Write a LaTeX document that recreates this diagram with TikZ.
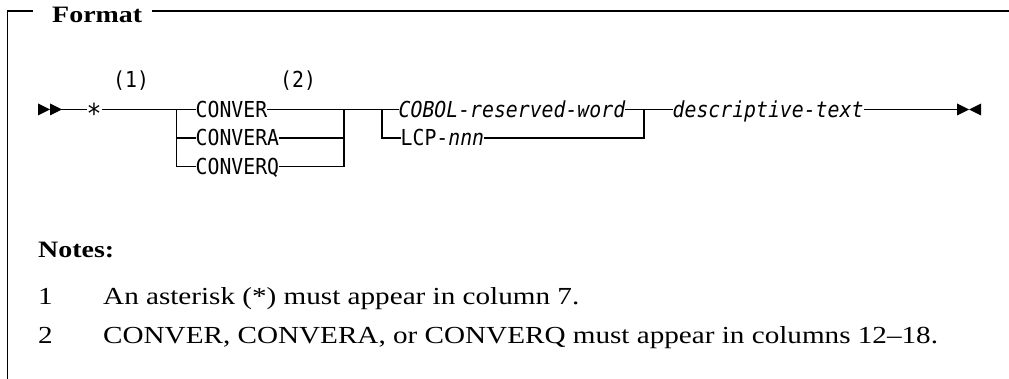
\documentclass[tikz,border=0pt]{standalone}
\usepackage{fontspec}
\setmainfont[FakeStretch=1.19]{Liberation Serif}
\newfontfamily\dmono[FakeStretch=0.9]{DejaVu Sans Mono}
\begin{document}
\begin{tikzpicture}[x=1pt,y=-1pt,
  rail/.style={line width=1.2pt, line cap=rect},
  frame/.style={line width=1.3pt},
  mono/.style={font=\dmono\fontsize{22}{26}\selectfont, inner sep=0pt, inner xsep=0.5pt, text height=16pt, text depth=0pt, anchor=west},
  noteref/.style={font=\dmono\fontsize{22}{26}\selectfont, inner sep=0pt, anchor=base west},
  serif/.style={font=\fontsize{24.5}{29}\selectfont, inner sep=0pt, anchor=base west},
  head/.style={font=\bfseries\fontsize{23.5}{28}\selectfont, inner sep=0pt, anchor=base west},
  tip/.style={fill=black}]
\useasboundingbox (0,0) rectangle (1009,379);
% frame
\node[head] (format) at (52,23) {Format};
\coordinate (fl) at (7.5,11);
\coordinate (fb) at (7.5,379);
\coordinate (fr) at (1009,11);
\draw[frame] (fb) -- (fl) -- (33,11);
\draw[frame] (152,11) -- (fr);
% main line nodes
\coordinate (start) at (62,109.5);
\node[mono] (star) at (86,109.5) {\raisebox{-6pt}{\scalebox{1.25}{*}}};
\node[noteref] (n1) at (113,88) {(1)};
\node[mono] (conver) at (195,109.5) {CONVER};
\node[noteref] (n2) at (280,88) {(2)};
\node[mono] (convera) at (195,138) {CONVERA};
\node[mono] (converq) at (195,166.5) {CONVERQ};
\node[mono] (cobol) at (398,109.5) {\itshape COBOL-reserved-word};
\node[mono] (lcp) at (400,138) {LCP-\textit{nnn}};
\node[mono] (desc) at (672,109.5) {\itshape descriptive-text};
\coordinate (stop) at (957,109.5);
\coordinate (j1) at (176.5,109.5);
\coordinate (j2) at (344,109.5);
\coordinate (j3) at (382,109.5);
\coordinate (j4) at (644,109.5);
% rails
\draw[rail] (start) -- (star.west);
\draw[rail] (star.east) -- (conver.west);
\draw[rail] (j1) |- (convera.west);
\draw[rail] (j1) |- (converq.west);
\draw[rail] (conver.east) -- (cobol.west);
\draw[rail] (convera.east) -| (j2);
\draw[rail] (converq.east) -| (j2);
\draw[rail] (lcp.west) -| (j3);
\draw[rail] (cobol.east) -- (desc.west);
\draw[rail] (lcp.east) -| (j4);
\draw[rail] (desc.east) -- (stop);
% start and end marks
\fill[tip] (38,103.5) -- (50,109.5) -- (38,115.5) -- cycle;
\fill[tip] (50,103.5) -- (start) -- (50,115.5) -- cycle;
\fill[tip] (stop) ++(0,-6) -- ++(12,6) -- ++(-12,6) -- cycle;
\fill[tip] (981,103.5) -- (969,109.5) -- (981,115.5) -- cycle;
% notes
\node[head] (notes) at (38,258) {Notes:};
\node[serif] (k1) at (38,305) {1};
\node[serif] (t1) at (103,305) {An asterisk (*) must appear in column 7.};
\node[serif] (k2) at (38,343) {2};
\node[serif] (t2) at (103,343) {CONVER, CONVERA, or CONVERQ must appear in columns 12--18.};
\end{tikzpicture}
\end{document}
